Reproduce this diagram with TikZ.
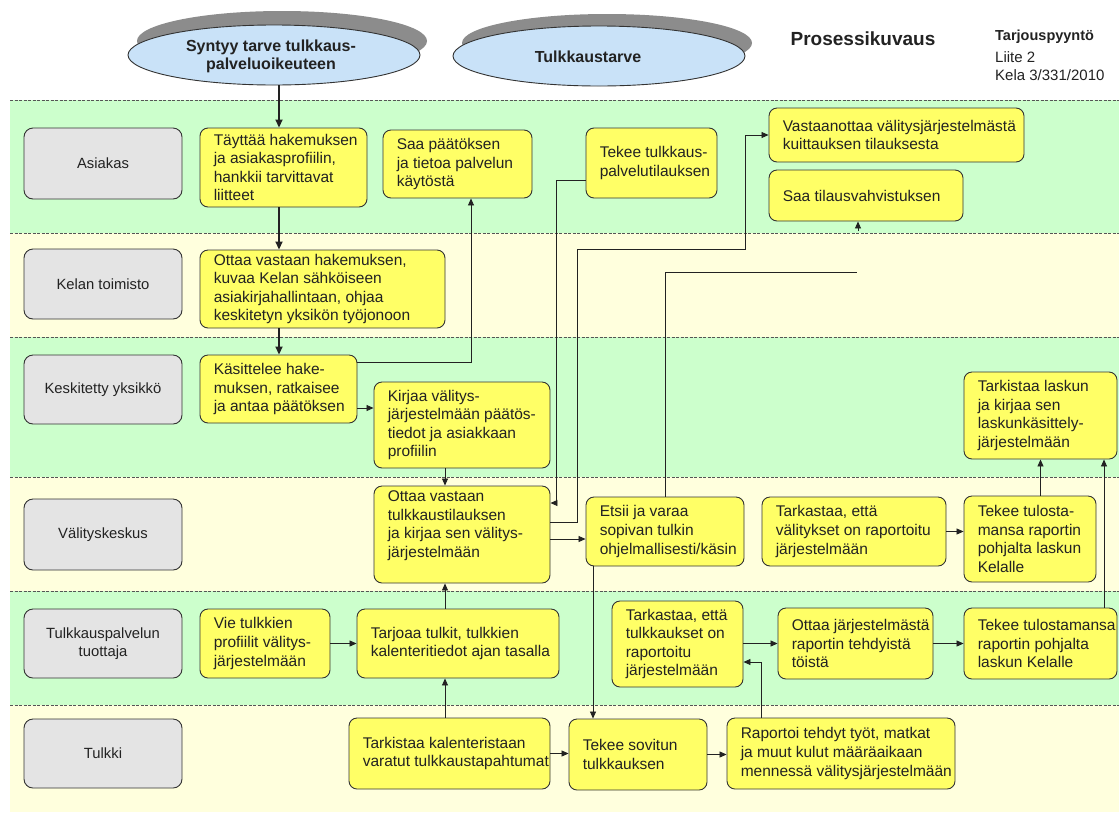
\documentclass[tikz,border=0pt]{standalone}
\usepackage{fontspec}
\setmainfont{Liberation Sans}
\usetikzlibrary{arrows.meta,shapes.geometric}
\definecolor{laneG}{HTML}{CCFFCC}
\definecolor{laneY}{HTML}{FFFFDD}
\definecolor{boxY}{HTML}{FFFF66}
\definecolor{boxG}{HTML}{E4E4E4}
\definecolor{ellB}{HTML}{C9E2F8}
\definecolor{shad}{HTML}{8C8C8C}
\definecolor{ink}{HTML}{222222}
\definecolor{boxline}{HTML}{333333}
\definecolor{sepc}{HTML}{555555}
\tikzset{
  yb/.style={draw=boxline, fill=boxY, rounded corners=8pt, line width=0.9pt, inner sep=0pt},
  gb/.style={draw=boxline, fill=boxG, rounded corners=9pt, line width=0.9pt, inner sep=0pt, align=center, text=ink, font=\fontsize{14.8}{18}\selectfont},
  btxt/.style={align=left, inner sep=0pt, text=ink, font=\fontsize{15.5}{18.6}\selectfont},
  arr/.style={draw=ink, line width=0.8pt, -{Triangle[length=7pt,width=6pt]}},
  tarr/.style={draw=ink, line width=1.7pt, -{Triangle[length=8pt,width=7pt]}},
  ln/.style={draw=ink, line width=0.8pt},
  sep/.style={draw=sepc, line width=0.8pt, dash pattern=on 3pt off 1.5pt},
  ell/.style={ellipse, draw=boxline, fill=ellB, line width=0.9pt, inner sep=0pt},
  shd/.style={ellipse, fill=shad, inner sep=0pt},
  etxt/.style={align=center, inner sep=0pt, text=ink, font=\bfseries\fontsize{16}{18}\selectfont},
}
% [text yshift] name x1 y1 x2 y2 text
\newcommand\ybox[7][0]{%
  \pgfmathsetmacro\mybw{#5-#3}\pgfmathsetmacro\mybh{#6-#4}%
  \pgfmathsetmacro\mybcx{(#3+#5)/2}\pgfmathsetmacro\mybcy{(#4+#6)/2}%
  \node[yb, minimum width=\mybw pt, minimum height=\mybh pt] (#2) at (\mybcx,\mybcy) {};
  \node[btxt, anchor=west] (#2t) at ([xshift=14pt,yshift=#1pt]#2.west) {#7};}
\newcommand\gbox[6]{%
  \pgfmathsetmacro\mybw{#4-#2}\pgfmathsetmacro\mybh{#5-#3}%
  \pgfmathsetmacro\mybcx{(#2+#4)/2}\pgfmathsetmacro\mybcy{(#3+#5)/2}%
  \node[gb, minimum width=\mybw pt, minimum height=\mybh pt] (#1) at (\mybcx,\mybcy) {#6};}
\begin{document}
\begin{tikzpicture}[x=1pt,y=-1pt]
\useasboundingbox (0,0) rectangle (1119,812);
\fill[white] (0,0) rectangle (1119,812);
% lanes
\fill[laneG] (10,100) rectangle (1119,233);
\fill[laneY] (10,233) rectangle (1119,337);
\fill[laneG] (10,337) rectangle (1119,477);
\fill[laneY] (10,477) rectangle (1119,591);
\fill[laneG] (10,591) rectangle (1119,705);
\fill[laneY] (10,705) rectangle (1119,812);
\foreach \yy in {100,233,337,477,591,705} \draw[sep] (10,\yy) -- (1119,\yy);
% header
\node[shd, minimum width=290pt, minimum height=60pt] (E1s) at (282,41) {};
\node[ell, minimum width=292pt, minimum height=60pt] (E1) at (274,55) {};
\node[etxt] (E1t) at (271,56) {Syntyy tarve tulkkaus-\\palveluoikeuteen};
\node[shd, minimum width=290pt, minimum height=58pt] (E2s) at (607,43) {};
\node[ell, minimum width=292pt, minimum height=60pt] (E2) at (599,56) {};
\node[etxt] (E2t) at (588,57) {Tulkkaustarve};
\node[inner sep=0pt, text=ink, font=\bfseries\fontsize{19}{21}\selectfont] (title) at (863,39) {Prosessikuvaus};
\node[anchor=west, inner sep=0pt, text=ink, font=\bfseries\fontsize{14.5}{17}\selectfont] (tp) at (995,37) {Tarjouspyyntö};
\node[anchor=west, inner sep=0pt, text=ink, font=\fontsize{15}{17}\selectfont] (liite) at (995,57) {Liite 2};
\node[anchor=west, inner sep=0pt, text=ink, font=\fontsize{15}{17}\selectfont] (kela) at (995,75) {Kela 3/331/2010};
% lane labels
\gbox{L1}{24}{128}{182}{199}{Asiakas}
\gbox{L2}{24}{249}{182}{319}{Kelan toimisto}
\gbox{L3}{24}{355}{182}{424}{Keskitetty yksikkö}
\gbox{L4}{24}{499}{182}{570}{Välityskeskus}
\gbox{L5}{24}{609}{182}{678}{Tulkkauspalvelun\\tuottaja}
\gbox{L6}{24}{719}{182}{788}{Tulkki}
% process boxes
\ybox{A1}{200}{128}{367}{207}{Täyttää hakemuksen\\ja asiakasprofiilin,\\hankkii tarvittavat\\liitteet}
\ybox{A2}{383}{130}{532}{198}{Saa päätöksen\\ja tietoa palvelun\\käytöstä}
\ybox{A3}{586}{128}{717}{198}{Tekee tulkkaus-\\palvelutilauksen}
\ybox{A4}{769}{108}{1024}{162}{Vastaanottaa välitysjärjestelmästä\\kuittauksen tilauksesta}
\ybox{A5}{769}{170}{963}{221}{Saa tilausvahvistuksen}
\ybox{K1}{200}{250}{445}{328}{Ottaa vastaan hakemuksen,\\kuvaa Kelan sähköiseen\\asiakirjahallintaan, ohjaa\\keskitetyn yksikön työjonoon}
\ybox{C1}{200}{355}{357}{423}{Käsittelee hake-\\muksen, ratkaisee\\ja antaa päätöksen}
\ybox{C2}{374}{382}{550}{468}{Kirjaa välitys-\\järjestelmään päätös-\\tiedot ja asiakkaan\\profiilin}
\ybox{C3}{964}{372}{1117}{459}{Tarkistaa laskun\\ja kirjaa sen\\laskunkäsittely-\\järjestelmään}
\ybox[9]{V1}{374}{486}{550}{583}{Ottaa vastaan\\tulkkaustilauksen\\ja kirjaa sen välitys-\\järjestelmään}
\ybox{V2}{586}{497}{744}{566}{Etsii ja varaa\\sopivan tulkin\\ohjelmallisesti/käsin}
\ybox{V3}{762}{497}{946}{566}{Tarkastaa, että\\välitykset on raportoitu\\järjestelmään}
\ybox{V4}{964}{496}{1096}{582}{Tekee tulosta-\\mansa raportin\\pohjalta laskun\\Kelalle}
\ybox{T1}{200}{609}{330}{678}{Vie tulkkien\\profiilit välitys-\\järjestelmään}
\ybox{T2}{357}{609}{559}{678}{Tarjoaa tulkit, tulkkien\\kalenteritiedot ajan tasalla}
\ybox{T3}{612}{601}{743}{687}{Tarkastaa, että\\tulkkaukset on\\raportoitu\\järjestelmään}
\ybox{T4}{778}{608}{933}{679}{Ottaa järjestelmästä\\raportin tehdyistä\\töistä}
\ybox{T5}{964}{608}{1117}{679}{Tekee tulostamansa\\raportin pohjalta\\laskun Kelalle}
\ybox{U1}{349}{718}{550}{789}{Tarkistaa kalenteristaan\\varatut tulkkaustapahtumat}
\ybox{U2}{569}{719}{707}{790}{Tekee sovitun\\tulkkauksen}
\ybox{U3}{727}{718}{955}{789}{Raportoi tehdyt työt, matkat\\ja muut kulut määräaikaan\\mennessä välitysjärjestelmään}
% helper coordinates
\coordinate (a0) at (279,0);
\coordinate (c4a) at (0,362);
\coordinate (c4b) at (471,362);
\coordinate (c5) at (0,408);
\coordinate (j1) at (556,180);
\coordinate (j2) at (556,503);
\coordinate (k1) at (577,522);
\coordinate (k2) at (577,249);
\coordinate (k3) at (745,249);
\coordinate (k4) at (745,135);
\coordinate (m1) at (0,539);
\coordinate (n1) at (665,272);
\coordinate (n2) at (857,272);
\coordinate (n3) at (858,231);
\coordinate (p1) at (593,0);
\coordinate (q1) at (1104,0);
\coordinate (r1) at (445,0);
\coordinate (s1) at (761,662);
% connectors
\draw[tarr] (E1.south -| a0) -- (A1.north -| a0);
\draw[tarr] (A1.south -| a0) -- (K1.north -| a0);
\draw[tarr] (K1.south -| a0) -- (C1.north -| a0);
\draw[arr] (C1.east |- c4a) -- (c4b) -- (A2.south -| c4b);
\draw[arr] (C1.east |- c5) -- (C2.west |- c5);
\draw[arr] (C2.south -| r1) -- (V1.north -| r1);
\draw[arr] (A3.west |- j1) -- (j1) -- (j2) -- (V1.east |- j2);
\draw[arr] (V1.east |- k1) -- (k1) -- (k2) -- (k3) -- (k4) -- (A4.west |- k4);
\draw[arr] (V1.east |- m1) -- (V2.west |- m1);
\draw[ln] (V2.north -| n1) -- (n1) -- (n2);
\draw[arr] (n3) -- (A5.south -| n3);
\draw[arr] (V2.south -| p1) -- (U2.north -| p1);
\draw[arr] (V3.east) -- (V3.east -| V4.west);
\draw[arr] (V4.north -| C3.south) -- (C3.south);
\draw[arr] (T5.north -| q1) -- (C3.south -| q1);
\draw[arr] (T2.north -| r1) -- (V1.south -| r1);
\draw[arr] (T1.east) -- (T1.east -| T2.west);
\draw[arr] (U1.north -| r1) -- (T2.south -| r1);
\draw[arr] (U1.east) -- (U1.east -| U2.west);
\draw[arr] (U2.east) -- (U2.east -| U3.west);
\draw[arr] (U3.north -| s1) -- (s1) -- (T3.east |- s1);
\draw[arr] (T3.east |- T4.west) -- (T4.west);
\draw[arr] (T4.east) -- (T4.east -| T5.west);
\end{tikzpicture}
\end{document}
